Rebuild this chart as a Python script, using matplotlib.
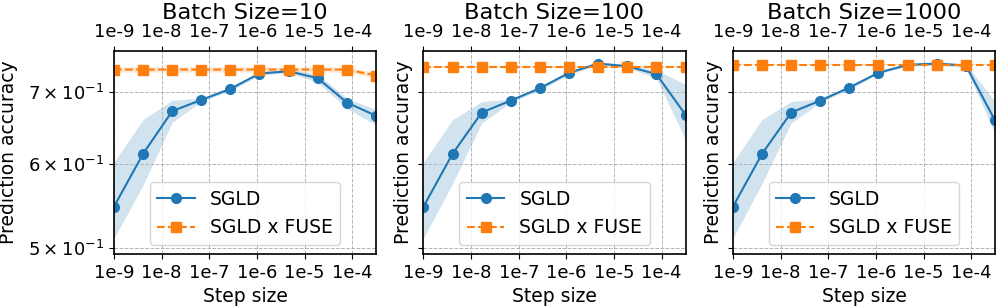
import matplotlib
matplotlib.use("Agg")
import matplotlib.pyplot as plt
from matplotlib.ticker import FixedLocator, FixedFormatter, NullLocator

# step sizes (x values of the 10 points)
step_sizes = [1e-9, 4.08e-9, 1.67e-8, 6.81e-8, 2.78e-7, 1.13e-6, 4.64e-6, 1.89e-5, 7.74e-5, 3.16e-4]
x_ticks = [1e-9, 1e-8, 1e-7, 1e-6, 1e-5, 1e-4]
x_tick_labels = ['1e-9', '1e-8', '1e-7', '1e-6', '1e-5', '1e-4']
y_ticks = [0.5, 0.6, 0.7]
y_tick_labels = [r'$\mathdefault{5\times10^{-1}}$',
                 r'$\mathdefault{6\times10^{-1}}$',
                 r'$\mathdefault{7\times10^{-1}}$']
batch_sizes = [10, 100, 1000]

# SGLD mean / lower / upper, one list per batch size
sgld_mean = [
    [0.547, 0.613, 0.672, 0.6885, 0.705, 0.7287, 0.7323, 0.7214, 0.6846, 0.6653],
    [0.547, 0.613, 0.670, 0.6875, 0.706, 0.7297, 0.7445, 0.7403, 0.7277, 0.6667],
    [0.547, 0.613, 0.670, 0.6875, 0.707, 0.7300, 0.7424, 0.7445, 0.7413, 0.6586],
]
sgld_low = [
    [0.511, 0.573, 0.656, 0.686, 0.702, 0.726, 0.730, 0.715, 0.676, 0.652],
    [0.511, 0.575, 0.655, 0.685, 0.703, 0.727, 0.742, 0.738, 0.721, 0.632],
    [0.511, 0.575, 0.655, 0.685, 0.704, 0.728, 0.740, 0.742, 0.738, 0.640],
]
sgld_high = [
    [0.602, 0.660, 0.688, 0.691, 0.708, 0.731, 0.735, 0.728, 0.691, 0.674],
    [0.602, 0.660, 0.686, 0.690, 0.709, 0.732, 0.747, 0.743, 0.734, 0.712],
    [0.602, 0.660, 0.686, 0.690, 0.710, 0.732, 0.745, 0.747, 0.744, 0.686],
]

# SGLD x FUSE mean and half band width
fuse_mean = [
    [0.735, 0.735, 0.735, 0.735, 0.735, 0.735, 0.735, 0.735, 0.735, 0.7256],
    [0.7392, 0.7392, 0.7392, 0.7392, 0.7392, 0.7392, 0.7392, 0.7392, 0.7392, 0.7392],
    [0.743, 0.743, 0.743, 0.743, 0.743, 0.743, 0.743, 0.743, 0.743, 0.743],
]
fuse_spread = [0.004, 0.002, 0.0015]

plt.rcParams['font.size'] = 13.5
plt.rcParams['xtick.labelsize'] = 13
plt.rcParams['ytick.labelsize'] = 13
plt.rcParams['axes.linewidth'] = 1.2

fig, axes = plt.subplots(1, 3, figsize=(9.97, 3.07), dpi=100, sharey=True)
fig.subplots_adjust(left=0.1143, right=0.998, bottom=0.1726, top=0.834, wspace=0.181)

for k, ax in enumerate(axes):
    ax.plot(step_sizes, sgld_mean[k], '-o', color='C0', ms=7, lw=1.5, label='SGLD')
    ax.fill_between(step_sizes, sgld_low[k], sgld_high[k], color='C0', alpha=0.2, lw=0)
    lo = [v - fuse_spread[k] for v in fuse_mean[k]]
    hi = [v + fuse_spread[k] for v in fuse_mean[k]]
    ax.plot(step_sizes, fuse_mean[k], '--s', color='C1', ms=7, lw=1.5, label='SGLD x FUSE')
    ax.fill_between(step_sizes, lo, hi, color='C1', alpha=0.2, lw=0)

    ax.set_xscale('log')
    ax.set_yscale('log')
    ax.set_xlim(1e-9, 3.16e-4)
    ax.set_ylim(0.494, 0.765)
    ax.xaxis.set_major_locator(FixedLocator(x_ticks))
    ax.xaxis.set_major_formatter(FixedFormatter(x_tick_labels))
    ax.xaxis.set_minor_locator(NullLocator())
    ax.yaxis.set_major_locator(FixedLocator(y_ticks))
    ax.yaxis.set_minor_locator(NullLocator())
    ax.tick_params(axis='x', top=True, labeltop=True)
    ax.grid(True, which='both', linestyle='--', color='0.7', lw=0.7)
    ax.set_title(f'Batch Size={batch_sizes[k]}', pad=2.5)
    ax.set_xlabel('Step size')
    ax.set_ylabel('Prediction accuracy')
    ax.legend(loc='lower center', fontsize=13.5)

axes[0].yaxis.set_major_formatter(FixedFormatter(y_tick_labels))
axes[0].yaxis.set_label_coords(-0.365, 0.5)
for ax in axes[1:]:
    ax.tick_params(axis='y', labelleft=False)

fig.savefig('out.png', dpi=100)
